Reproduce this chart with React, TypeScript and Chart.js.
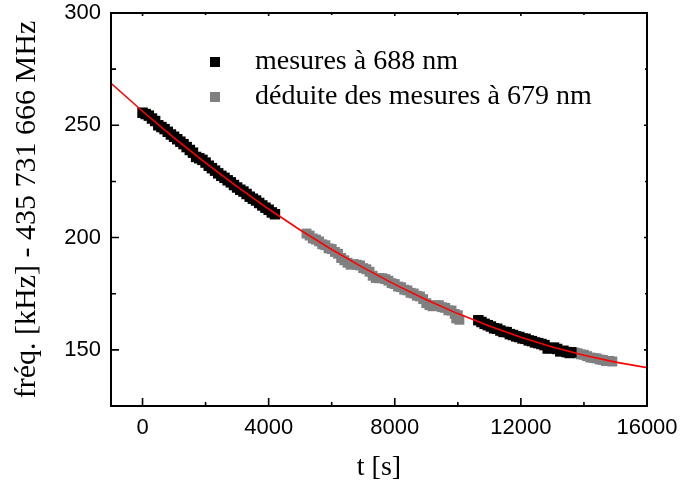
import { useEffect, useRef } from "react";
import { Chart, registerables } from "chart.js";

Chart.register(...registerables);

// ---- axis ticks ----
const xMajorTicks = [0, 4000, 8000, 12000, 16000];
const xMinorTicks = [2000, 6000, 10000, 14000];
const yMajorTicks = [150, 200, 250, 300];
const yMinorTicks = [175, 225, 275];

// ---- series: "mesures à 688 nm" (black) ----
const tMes688 = [
  0, 100, 200, 300, 400, 500, 600, 700, 800, 900, 1000, 1100, 1200, 1300, 1400,
  1500, 1600, 1700, 1800, 1900, 2000, 2100, 2200, 2300, 2400, 2500, 2600, 2700,
  2800, 2900, 3000, 3100, 3200, 3300, 3400, 3500, 3600, 3700, 3800, 3900, 4000,
  4100, 4200,
  10650, 10750, 10850, 10950, 11050, 11150, 11250, 11350, 11450, 11550, 11650,
  11750, 11850, 11950, 12050, 12150, 12250, 12350, 12450, 12550, 12650, 12750,
  12850, 12950, 13050, 13150, 13250, 13350, 13450, 13550, 13600,
];
const fMes688 = [
  255.6, 255.0, 254.3, 253.0, 251.9, 250.0, 249.2, 248.3, 247.1, 245.9, 244.9,
  243.8, 242.7, 241.6, 240.3, 239.0, 237.8, 235.9, 235.3, 234.6, 233.4, 232.0,
  230.9, 229.8, 228.6, 227.5, 226.6, 225.5, 224.6, 223.4, 222.3, 221.3, 220.5,
  219.4, 218.2, 217.3, 216.5, 215.4, 214.3, 213.3, 212.4, 211.2, 210.4,
  163.2, 162.4, 161.6, 161.0, 160.4, 159.6, 159.4, 158.6, 158.0, 157.9, 157.0,
  156.6, 156.0, 155.7, 155.1, 154.9, 154.2, 153.9, 153.3, 153.0, 152.6, 152.1,
  150.6, 150.8, 151.0, 150.4, 149.3, 149.6, 149.0, 148.6, 148.9,
];

// ---- series: "déduite des mesures à 679 nm" (grey) ----
const tDed679 = [
  5200, 5300, 5400, 5500, 5600, 5700, 5800, 5900, 6000, 6100, 6200, 6300, 6400,
  6500, 6600, 6700, 6800, 6900, 7000, 7100, 7200, 7300, 7400, 7500, 7600, 7700,
  7800, 7900, 8000, 8100, 8200, 8300, 8400, 8500, 8600, 8700, 8800, 8900, 9000,
  9100, 9200, 9300, 9400, 9500, 9600, 9700, 9800, 9900, 9950, 10000, 10050,
  13700, 13800, 13900, 14000, 14100, 14200, 14300, 14400, 14500, 14600, 14700,
  14800, 14900,
];
const fDed679 = [
  201.8, 200.9, 199.6, 199.1, 198.3, 197.0, 196.6, 195.2, 194.9, 193.6, 192.8,
  190.9, 189.9, 188.8, 187.9, 188.2, 187.9, 187.6, 186.4, 185.9, 184.8, 183.0,
  182.0, 181.9, 181.9, 181.5, 180.8, 179.7, 179.3, 178.2, 177.9, 176.8, 176.5,
  175.4, 175.1, 174.1, 173.8, 172.6, 170.8, 169.9, 169.4, 169.8, 169.9, 169.0,
  168.7, 167.6, 167.5, 166.0, 164.0, 165.4, 163.4,
  148.8, 148.5, 148.0, 147.8, 147.2, 146.6, 146.4, 146.2, 145.7, 145.5, 145.0,
  145.1, 144.8,
];

// ---- fitted curve (red) ----
const tFit = [
  -1000, 0, 1000, 2000, 3000, 4000, 5000, 6000, 7000, 8000, 9000, 10000, 11000,
  12000, 13000, 14000, 15000, 16000,
];
const fFit = [
  268.7, 256.25, 244.43, 233.23, 222.66, 212.71, 203.39, 194.68, 186.6, 179.16,
  172.34, 166.14, 160.58, 155.62, 151.3, 147.6, 144.53, 142.08,
];

const labelMes688 = "mesures à 688 nm";
const labelDed679 = "déduite des mesures à 679 nm";
const xTitle = "t [s]";
const yTitle = "fréq. [kHz] - 435 731 666 MHz";

const SERIF = '"Liberation Serif", "Times New Roman", serif';
const SANS = '"Liberation Sans", Arial, sans-serif';

const framePlugin = {
  id: "frameTicks",
  afterDatasetsDraw(chart: any) {
    const { ctx, chartArea: a, scales } = chart;
    const xs = scales.x;
    const ys = scales.y;
    ctx.save();
    ctx.strokeStyle = "#000";
    ctx.lineWidth = 1.6;
    ctx.beginPath();
    for (const v of xMajorTicks) {
      const p = xs.getPixelForValue(v);
      ctx.moveTo(p, a.bottom);
      ctx.lineTo(p, a.bottom - 8);
      ctx.moveTo(p, a.top);
      ctx.lineTo(p, a.top + 3);
    }
    for (const v of xMinorTicks) {
      const p = xs.getPixelForValue(v);
      ctx.moveTo(p, a.bottom);
      ctx.lineTo(p, a.bottom - 4);
      ctx.moveTo(p, a.top);
      ctx.lineTo(p, a.top + 2);
    }
    for (const v of yMajorTicks) {
      const p = ys.getPixelForValue(v);
      ctx.moveTo(a.left, p);
      ctx.lineTo(a.left + 8, p);
      ctx.moveTo(a.right, p);
      ctx.lineTo(a.right - 3, p);
    }
    for (const v of yMinorTicks) {
      const p = ys.getPixelForValue(v);
      ctx.moveTo(a.left, p);
      ctx.lineTo(a.left + 5, p);
      ctx.moveTo(a.right, p);
      ctx.lineTo(a.right - 2, p);
    }
    ctx.stroke();
    ctx.lineWidth = 2;
    ctx.strokeRect(a.left, a.top, a.right - a.left, a.bottom - a.top);
    ctx.restore();
  },
  afterDraw(chart: any) {
    const { ctx } = chart;
    const items = [chart.data.datasets[1], chart.data.datasets[2]];
    const rows = [62, 97];
    ctx.save();
    ctx.font = `28px ${SERIF}`;
    ctx.textBaseline = "middle";
    ctx.textAlign = "left";
    items.forEach((ds: any, i: number) => {
      const cy = rows[i];
      ctx.fillStyle = ds.backgroundColor;
      ctx.fillRect(210, cy - 5, 10, 10);
      ctx.fillStyle = "#000";
      ctx.fillText(ds.label, 255, cy);
    });
    ctx.restore();
  },
};

export default function App() {
  const ref = useRef<HTMLCanvasElement | null>(null);

  useEffect(() => {
    if (!ref.current) return;
    const toPts = (t: number[], f: number[]) => t.map((x, i) => ({ x, y: f[i] }));
    const chart = new Chart(ref.current, {
      type: "scatter",
      data: {
        datasets: [
          {
            label: "fit",
            data: toPts(tFit, fFit),
            showLine: true,
            borderColor: "#ff0000",
            borderWidth: 1.6,
            pointRadius: 0,
            fill: false,
          },
          {
            label: labelMes688,
            data: toPts(tMes688, fMes688),
            backgroundColor: "#000000",
            borderWidth: 0,
            pointStyle: "rect",
            pointRadius: 7.4,
          },
          {
            label: labelDed679,
            data: toPts(tDed679, fDed679),
            backgroundColor: "#808080",
            borderWidth: 0,
            pointStyle: "rect",
            pointRadius: 7.0,
          },
        ],
      },
      options: {
        animation: false,
        responsive: false,
        layout: { padding: { left: 0, top: 13, right: 37, bottom: 0 } },
        plugins: { legend: { display: false }, tooltip: { enabled: false } },
        scales: {
          x: {
            type: "linear",
            min: -1000,
            max: 16000,
            afterBuildTicks: (s: any) => {
              s.ticks = xMajorTicks.map((v) => ({ value: v }));
            },
            grid: { display: false, drawTicks: false },
            border: { display: false },
            ticks: {
              color: "#000",
              font: { family: SANS, size: 22 },
              padding: 9,
              maxRotation: 0,
              autoSkip: false,
              callback: (v: any) => String(v),
            },
            title: {
              display: true,
              text: xTitle,
              color: "#000",
              font: { family: SERIF, size: 28 },
              padding: { top: 0, bottom: 7 },
            },
            afterFit: (s: any) => {
              s.height = 85;
              s.paddingLeft = 0;
              s.paddingRight = 0;
            },
          },
          y: {
            type: "linear",
            min: 125,
            max: 300,
            afterBuildTicks: (s: any) => {
              s.ticks = yMajorTicks.map((v) => ({ value: v }));
            },
            grid: { display: false, drawTicks: false },
            border: { display: false },
            ticks: {
              color: "#000",
              font: { family: SANS, size: 22 },
              padding: 10,
              autoSkip: false,
              callback: (v: any) => String(v),
            },
            title: {
              display: true,
              text: yTitle,
              color: "#000",
              font: { family: SERIF, size: 30 },
              padding: { top: 9, bottom: 0 },
            },
            afterFit: (s: any) => {
              s.width = 111;
              s.paddingTop = 0;
              s.paddingBottom = 0;
            },
          },
        },
      },
      plugins: [framePlugin],
    });
    return () => chart.destroy();
  }, []);

  return (
    <div style={{ position: "absolute", left: 0, top: 0, width: 684, height: 491, background: "#fff" }}>
      <canvas ref={ref} width={684} height={491} style={{ display: "block" }} />
    </div>
  );
}
